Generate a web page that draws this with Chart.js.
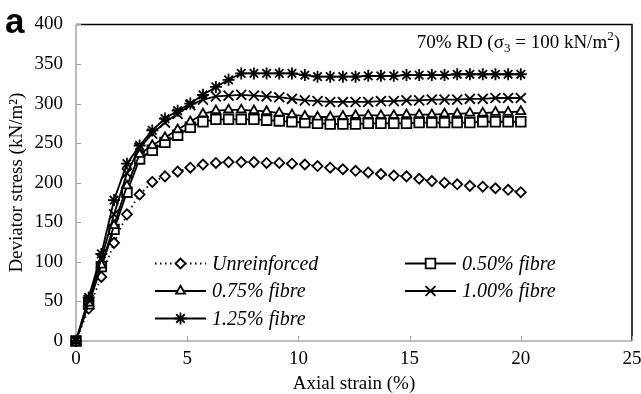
<!DOCTYPE html>
<html>
<head>
<meta charset="utf-8">
<script src="https://cdn.jsdelivr.net/npm/chart.js@4.4.0/dist/chart.umd.min.js"></script>
<style>
  html, body { margin: 0; padding: 0; background: #fff; }
</style>
</head>
<body>
<canvas id="stressChart" width="641" height="394"></canvas>
<script>
// axial strain (%) for every reading
const strain = [0, 0.57, 1.14, 1.71, 2.29, 2.86, 3.43, 4.00, 4.57, 5.14, 5.71, 6.29,
  6.86, 7.43, 8.00, 8.57, 9.14, 9.71, 10.29, 10.86, 11.43, 12.00, 12.57, 13.14,
  13.71, 14.29, 14.86, 15.43, 16.00, 16.57, 17.14, 17.71, 18.29, 18.86, 19.43, 20.00];

// deviator stress (kN/m2)
const unreinforced = [0, 41, 81, 124, 160, 185, 201, 208, 214, 219, 223, 225, 226, 226, 226, 225,
  225, 224, 223, 221, 219, 217, 215, 213, 211, 209, 208, 205, 202, 200, 198, 196, 195, 193, 191, 188];
const fibre050 = [0, 47, 94, 141, 188, 230, 241, 251, 260, 270, 277, 280, 280, 280, 280, 279,
  278, 277, 276, 275, 274, 274, 274, 275, 275, 275, 275, 276, 276, 276, 276, 276, 277, 277, 277, 277];
const fibre075 = [0, 48, 96, 146, 196, 236, 247, 257, 267, 277, 287, 291, 292, 292, 291, 290,
  288, 286, 284, 283, 283, 284, 285, 285, 285, 285, 286, 286, 286, 287, 287, 288, 288, 289, 289, 290];
const fibre100 = [0, 52, 104, 160, 212, 244, 262, 276, 287, 298, 305, 309, 310, 311, 310, 309,
  308, 306, 304, 303, 302, 302, 302, 302, 303, 303, 304, 304, 305, 305, 305, 306, 306, 307, 307, 307];
const fibre125 = [0, 55, 110, 178, 224, 247, 266, 281, 291, 300, 311, 321, 330, 338, 338, 338,
  338, 338, 336, 334, 334, 334, 334, 335, 335, 335, 336, 336, 336, 336, 337, 337, 337, 337, 337, 337];

const seriesLabels = ['Unreinforced', '0.50% fibre', '0.75% fibre', '1.00% fibre', '1.25% fibre'];
const xTicks = [0, 5, 10, 15, 20, 25];
const yTicks = [0, 50, 100, 150, 200, 250, 300, 350, 400];

const serif = '"Liberation Serif", "Times New Roman", serif';
const axisGrey = '#a6a6a6';

function toPoints(values) {
  return values.map((v, i) => ({ x: strain[i], y: v }));
}

const styles = [
  { pointStyle: 'rectRot', pointRadius: 5, borderDash: [1.5, 3.5], order: 5 },
  { pointStyle: 'rect', pointRadius: 6.8, borderDash: [], order: 4 },
  { pointStyle: 'triangle', pointRadius: 5.2, borderDash: [], order: 3 },
  { pointStyle: 'crossRot', pointRadius: 7, borderDash: [], order: 2 },
  { pointStyle: 'star', pointRadius: 6, borderDash: [], order: 1 }
];

const allSeries = [unreinforced, fibre050, fibre075, fibre100, fibre125];

const datasets = allSeries.map((vals, i) => ({
  label: seriesLabels[i],
  data: toPoints(vals),
  showLine: true,
  borderColor: '#000',
  borderWidth: 1.8,
  borderDash: styles[i].borderDash,
  pointStyle: styles[i].pointStyle,
  pointRadius: styles[i].pointRadius,
  pointBorderColor: '#000',
  pointBackgroundColor: '#fff',
  pointBorderWidth: 1.8,
  tension: 0,
  clip: false,
  order: styles[i].order
}));

// black frame on top/right, grey axes with inner tick marks
const frame = {
  id: 'frame',
  beforeDatasetsDraw(chart) {
    const { ctx, chartArea: a, scales } = chart;
    ctx.save();
    ctx.strokeStyle = '#000';
    ctx.lineWidth = 1.5;
    ctx.beginPath();
    ctx.moveTo(a.left, a.top);
    ctx.lineTo(a.right, a.top);
    ctx.lineTo(a.right, a.bottom);
    ctx.stroke();
    ctx.strokeStyle = axisGrey;
    ctx.lineWidth = 1.5;
    ctx.beginPath();
    ctx.moveTo(a.left, a.top);
    ctx.lineTo(a.left, a.bottom);
    ctx.lineTo(a.right, a.bottom);
    ctx.stroke();
    ctx.lineWidth = 1;
    ctx.beginPath();
    yTicks.forEach(t => {
      const y = Math.round(scales.y.getPixelForValue(t)) + 0.5;
      ctx.moveTo(a.left, y);
      ctx.lineTo(a.left + 5, y);
    });
    xTicks.forEach(t => {
      const x = Math.round(scales.x.getPixelForValue(t)) + 0.5;
      ctx.moveTo(x, a.bottom);
      ctx.lineTo(x, a.bottom - 5);
    });
    ctx.stroke();
    ctx.restore();
  },
  afterDraw(chart) {
    const { ctx } = chart;
    ctx.save();
    // panel letter
    ctx.fillStyle = '#000';
    ctx.font = 'bold 35px "Liberation Sans", Arial, sans-serif';
    ctx.textBaseline = 'alphabetic';
    ctx.textAlign = 'left';
    ctx.fillText('a', 5, 33);

    // condition note, with sub/superscript
    const parts = [
      ['70% RD (\u03C3', 19, 0],
      ['3', 13, 4],
      [' = 100 kN/m', 19, 0],
      ['2', 13, -8],
      [')', 19, 0]
    ];
    let total = 0;
    parts.forEach(p => { ctx.font = p[1] + 'px ' + serif; total += ctx.measureText(p[0]).width; });
    let x = 620 - total;
    parts.forEach(p => {
      ctx.font = p[1] + 'px ' + serif;
      ctx.fillText(p[0], x, 48 + p[2]);
      x += ctx.measureText(p[0]).width;
    });

    // legend inside plot
    const slots = [
      { x: 155, y: 263.5 }, { x: 405, y: 263.5 },
      { x: 155, y: 291 }, { x: 405, y: 291 },
      { x: 155, y: 318.5 }
    ];
    chart.data.datasets.forEach((ds, i) => {
      const s = slots[i];
      ctx.strokeStyle = '#000';
      ctx.lineWidth = 1.8;
      ctx.setLineDash(ds.borderDash);
      ctx.beginPath();
      ctx.moveTo(s.x, s.y);
      ctx.lineTo(s.x + 51, s.y);
      ctx.stroke();
      ctx.setLineDash([]);
      ctx.fillStyle = '#fff';
      Chart.helpers.drawPoint(ctx, {
        pointStyle: ds.pointStyle,
        radius: ds.pointRadius,
        rotation: 0,
        borderWidth: 1.8
      }, s.x + 25.5, s.y);
      ctx.fillStyle = '#000';
      ctx.font = 'italic 20px ' + serif;
      ctx.fillText(ds.label, s.x + 57, s.y + 6);
    });
    ctx.restore();
  }
};

new Chart(document.getElementById('stressChart'), {
  type: 'scatter',
  data: { datasets: datasets },
  options: {
    responsive: false,
    animation: false,
    layout: { padding: { top: 21, right: 0, left: 0, bottom: 0 } },
    plugins: { legend: { display: false }, tooltip: { enabled: false } },
    scales: {
      x: {
        type: 'linear',
        min: 0,
        max: 25,
        afterFit(scale) { scale.height = 53; scale.paddingRight = 9; },
        afterBuildTicks(scale) { scale.ticks = xTicks.map(v => ({ value: v })); },
        grid: { display: false, drawTicks: false },
        border: { display: false },
        ticks: { color: '#000', padding: 7, maxRotation: 0, font: { family: serif, size: 19 } },
        title: { display: true, text: 'Axial strain (%)', color: '#000', padding: { top: 0, bottom: -1 }, font: { family: serif, size: 19 } }
      },
      y: {
        min: 0,
        max: 400,
        afterFit(scale) { scale.width = 76; },
        afterBuildTicks(scale) { scale.ticks = yTicks.map(v => ({ value: v })); },
        grid: { display: false, drawTicks: false },
        border: { display: false },
        ticks: { color: '#000', padding: 13, font: { family: serif, size: 19 } },
        title: { display: true, text: 'Deviator stress (kN/m\u00B2)', color: '#000', padding: { top: 6, bottom: 0 }, font: { family: serif, size: 19 } }
      }
    }
  },
  plugins: [frame]
});
</script>
</body>
</html>
